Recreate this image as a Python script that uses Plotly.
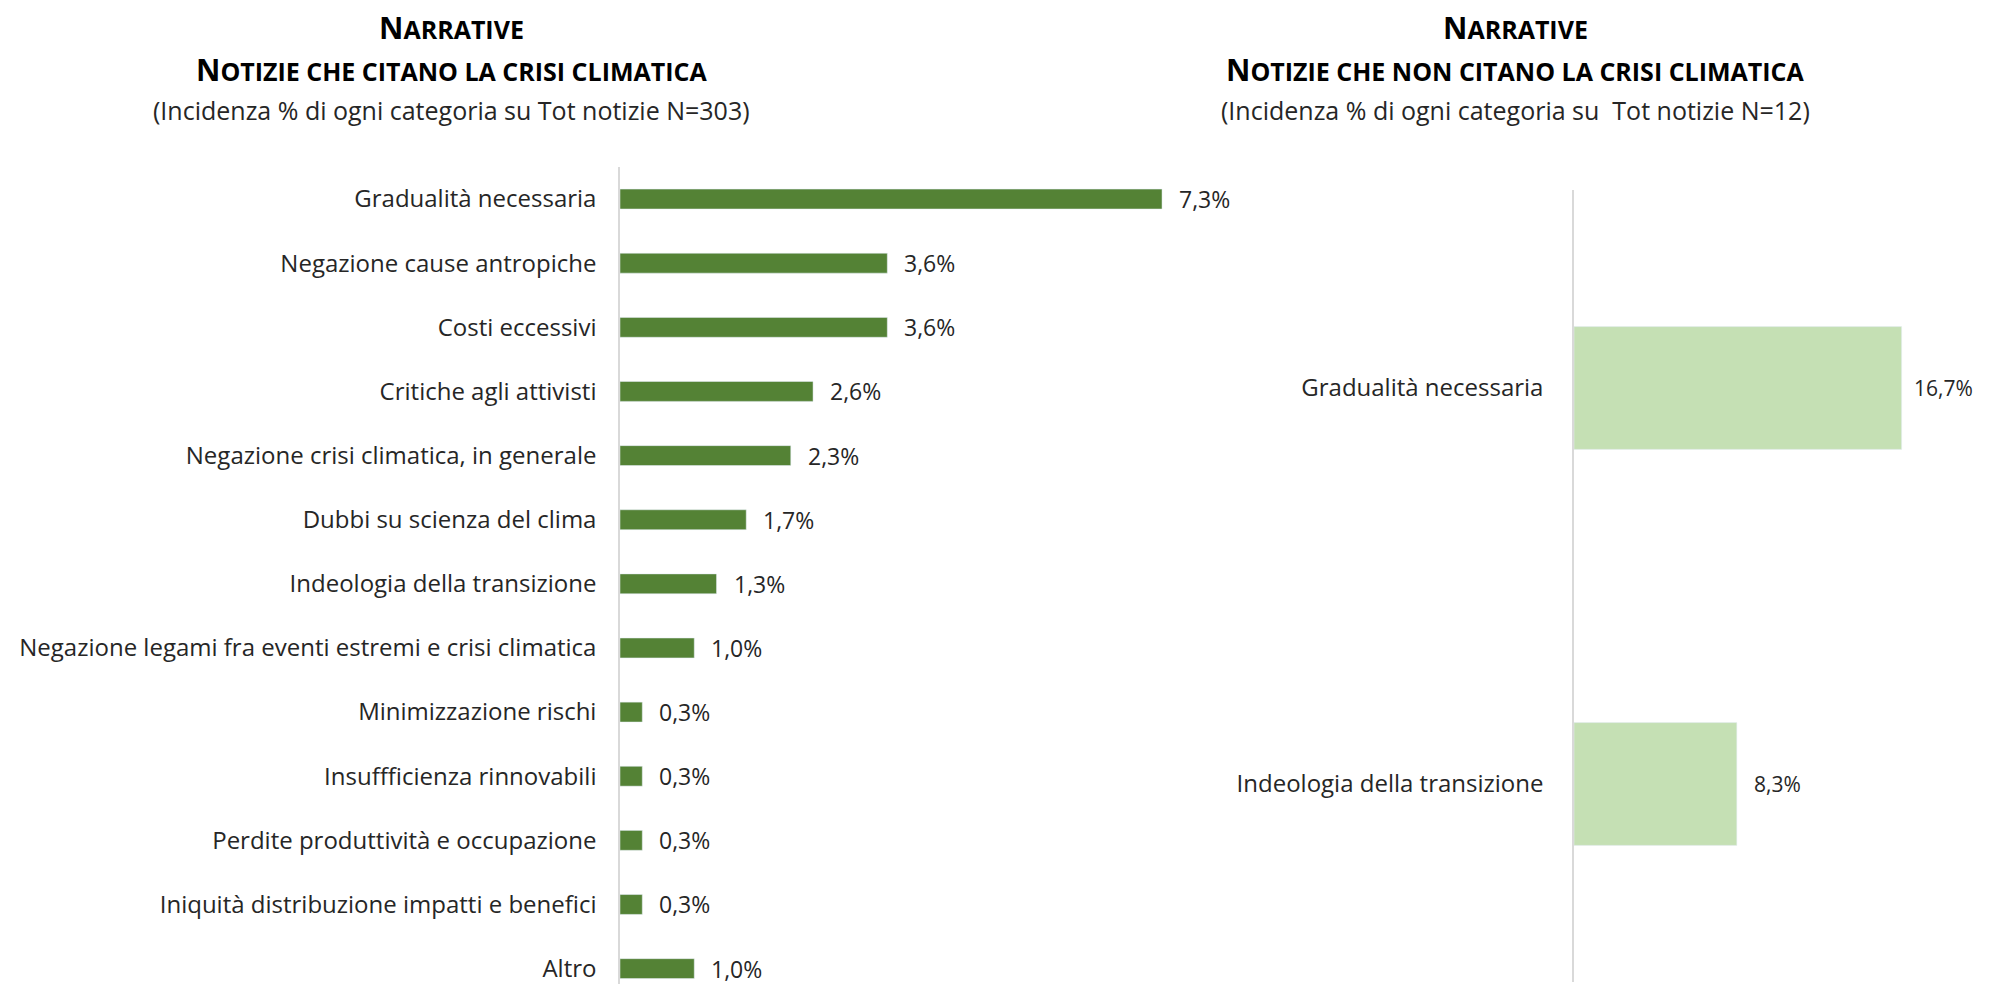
import plotly.graph_objects as go

DARK_GREEN = '#548235'
LIGHT_GREEN = '#C5E0B4'
AXIS_GREY = '#D9D9D9'
TEXT_COLOUR = '#262626'
FONT = 'Open Sans'

# left panel: news that mention the climate crisis (N=303)
cats_left = [
    'Gradualità necessaria',
    'Negazione cause antropiche',
    'Costi eccessivi',
    'Critiche agli attivisti',
    'Negazione crisi climatica, in generale',
    'Dubbi su scienza del clima',
    'Indeologia della transizione',
    'Negazione legami fra eventi estremi e crisi climatica',
    'Minimizzazione rischi',
    'Insuffficienza rinnovabili',
    'Perdite produttività e occupazione',
    'Iniquità distribuzione impatti e benefici',
    'Altro',
]
vals_left = [7.3, 3.6, 3.6, 2.6, 2.3, 1.7, 1.3, 1.0, 0.3, 0.3, 0.3, 0.3, 1.0]

# right panel: news that do not mention it (N=12)
cats_right = ['Gradualità necessaria', 'Indeologia della transizione']
vals_right = [16.7, 8.3]

heading_1 = 'NARRATIVE'
heading_left = 'NOTIZIE CHE CITANO LA CRISI CLIMATICA'
heading_right = 'NOTIZIE CHE NON CITANO LA CRISI CLIMATICA'
sub_left = '(Incidenza % di ogni categoria su Tot notizie N=303)'
sub_right = '(Incidenza % di ogni categoria su  Tot notizie N=12)'

# page body has an 8px margin, so the figure is a little smaller than the window
W, H, OFF = 1976, 976, 8


def xp(px):
    return (px - OFF) / W


def yp(px):
    return 1 - (px - OFF) / H


def pct(v):
    return f'{v:.1f}%'.replace('.', ',')


def small_caps(text, big, small):
    return (f"<span style='font-size:{big}px'>{text[0]}</span>"
            f"<span style='font-size:{small}px'>{text[1:]}</span>")


fig = go.Figure()
fig.add_trace(go.Bar(x=vals_left, y=cats_left, orientation='h',
                     marker=dict(color=DARK_GREEN), width=0.31,
                     xaxis='x', yaxis='y', hoverinfo='skip'))
fig.add_trace(go.Bar(x=vals_right, y=cats_right, orientation='h',
                     marker=dict(color=LIGHT_GREEN), width=0.31,
                     xaxis='x2', yaxis='y2', hoverinfo='skip'))

annotations = []
for c, v in zip(cats_left, vals_left):
    annotations.append(dict(x=v, y=c, xref='x', yref='y', text=pct(v),
                            showarrow=False, xanchor='left', xshift=15,
                            font=dict(size=23, color=TEXT_COLOUR)))
for c, v, sh in zip(cats_right, vals_right, [10, 15]):
    annotations.append(dict(x=v, y=c, xref='x2', yref='y2', text=pct(v),
                            showarrow=False, xanchor='left', xshift=sh,
                            font=dict(size=21, color=TEXT_COLOUR)))

# panel headings
for xc, line2, sub in [(451, heading_left, sub_left),
                       (1515, heading_right, sub_right)]:
    annotations.append(dict(x=xp(xc), y=yp(28), xref='paper', yref='paper',
                            text='<b>' + small_caps(heading_1, 30, 25) + '</b>',
                            showarrow=False, xanchor='center', yanchor='middle',
                            font=dict(size=25, color='#000000')))
    annotations.append(dict(x=xp(xc), y=yp(69), xref='paper', yref='paper',
                            text='<b>' + small_caps(line2, 30, 25) + '</b>',
                            showarrow=False, xanchor='center', yanchor='middle',
                            font=dict(size=25, color='#000000')))
    annotations.append(dict(x=xp(xc), y=yp(110), xref='paper', yref='paper',
                            text=sub, showarrow=False, xanchor='center',
                            yanchor='middle',
                            font=dict(size=25, color=TEXT_COLOUR)))

fig.update_layout(
    width=W, height=H,
    margin=dict(l=0, r=0, t=0, b=0),
    paper_bgcolor='white', plot_bgcolor='white',
    showlegend=False,
    font=dict(family=FONT, size=24, color=TEXT_COLOUR),
    annotations=annotations,
    xaxis=dict(domain=[xp(620), xp(1214)], range=[0, 8], visible=False),
    yaxis=dict(domain=[0, yp(167)], range=[12.24, -0.5],
               type='category', showline=True, linecolor=AXIS_GREY, linewidth=1.5,
               ticks='outside', ticklen=17, tickcolor='white', showgrid=False,
               tickfont=dict(size=24)),
    xaxis2=dict(domain=[xp(1574), 1.0], range=[0, 20.9], visible=False,
                anchor='y2'),
    yaxis2=dict(domain=[yp(982), yp(190)], range=[1.5, -0.5],
                type='category', anchor='x2', showline=True, linecolor=AXIS_GREY,
                linewidth=1.5, ticks='outside', ticklen=24, tickcolor='white',
                showgrid=False, tickfont=dict(size=24)),
)
fig.update_xaxes(zeroline=False)

fig.write_html('out.html')
